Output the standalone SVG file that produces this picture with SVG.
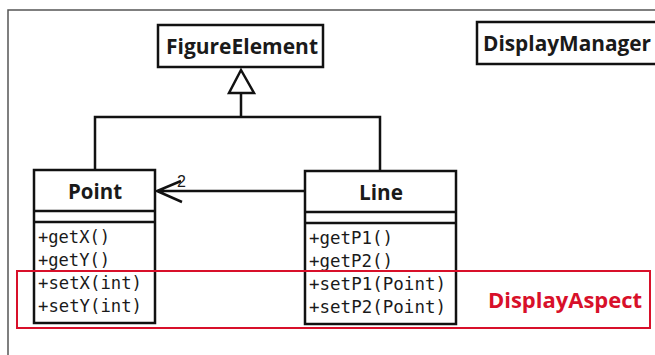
<svg xmlns="http://www.w3.org/2000/svg" width="655" height="355" viewBox="0 0 655 355">
<style>
.box{fill:#fff;stroke:#111;stroke-width:2.5}
.ln{fill:none;stroke:#111;stroke-width:2.5}
.title{font-family:"Open Sans","DejaVu Sans",sans-serif;font-weight:bold;font-size:21px;fill:#1a1a1a;text-anchor:middle}
.mono{font-family:"DejaVu Sans Mono","Liberation Mono",monospace;font-size:17px;fill:#1a1a1a}
.aspect{font-family:"Open Sans","DejaVu Sans",sans-serif;font-weight:bold;font-size:21px;fill:#d8102a}
</style>
<rect width="655" height="355" fill="#fff"/>
<path d="M8,355 V10 H655" fill="none" stroke="#555" stroke-width="1.5"/>
<g id="connectors">
<path class="ln" d="M241,93 V117 M95,170 V117 H380 V171"/>
<path d="M241,70 L229,93 H254 Z" fill="#fff" stroke="#111" stroke-width="2.5"/>
<path class="ln" d="M305,191 H157 M181,181 L157,191 L182,202"/>
<text x="177" y="187" font-family="Liberation Sans,sans-serif" font-size="16" fill="#1a1a1a">2</text>
</g>
<g id="FigureElement">
<rect class="box" x="158" y="25" width="165" height="42"/>
<text class="title" x="242" y="54" textLength="152" lengthAdjust="spacingAndGlyphs">FigureElement</text>
</g>
<g id="DisplayManager">
<rect class="box" x="477" y="22" width="190" height="42"/>
<text class="title" x="567" y="51" textLength="168" lengthAdjust="spacingAndGlyphs">DisplayManager</text>
</g>
<g id="Point">
<rect class="box" x="34" y="170" width="121" height="153"/>
<path class="ln" d="M34,211 H155 M34,222 H155"/>
<text class="title" x="95" y="199" textLength="54" lengthAdjust="spacingAndGlyphs">Point</text>
<text class="mono" x="38" y="243" textLength="72" lengthAdjust="spacingAndGlyphs">+getX()</text>
<text class="mono" x="38" y="266" textLength="72" lengthAdjust="spacingAndGlyphs">+getY()</text>
<text class="mono" x="38" y="289" textLength="104" lengthAdjust="spacingAndGlyphs">+setX(int)</text>
<text class="mono" x="38" y="312" textLength="104" lengthAdjust="spacingAndGlyphs">+setY(int)</text>
</g>
<g id="Line">
<rect class="box" x="305" y="171" width="151" height="153"/>
<path class="ln" d="M305,212 H456 M305,223 H456"/>
<text class="title" x="381" y="200" textLength="44" lengthAdjust="spacingAndGlyphs">Line</text>
<text class="mono" x="309" y="244" textLength="84" lengthAdjust="spacingAndGlyphs">+getP1()</text>
<text class="mono" x="309" y="267" textLength="84" lengthAdjust="spacingAndGlyphs">+getP2()</text>
<text class="mono" x="309" y="290" textLength="137" lengthAdjust="spacingAndGlyphs">+setP1(Point)</text>
<text class="mono" x="309" y="313" textLength="137" lengthAdjust="spacingAndGlyphs">+setP2(Point)</text>
</g>
<g id="DisplayAspect">
<rect x="17" y="271" width="633" height="57" fill="none" stroke="#d8102a" stroke-width="2"/>
<text class="aspect" x="488" y="308" textLength="154" lengthAdjust="spacingAndGlyphs">DisplayAspect</text>
</g>
</svg>
